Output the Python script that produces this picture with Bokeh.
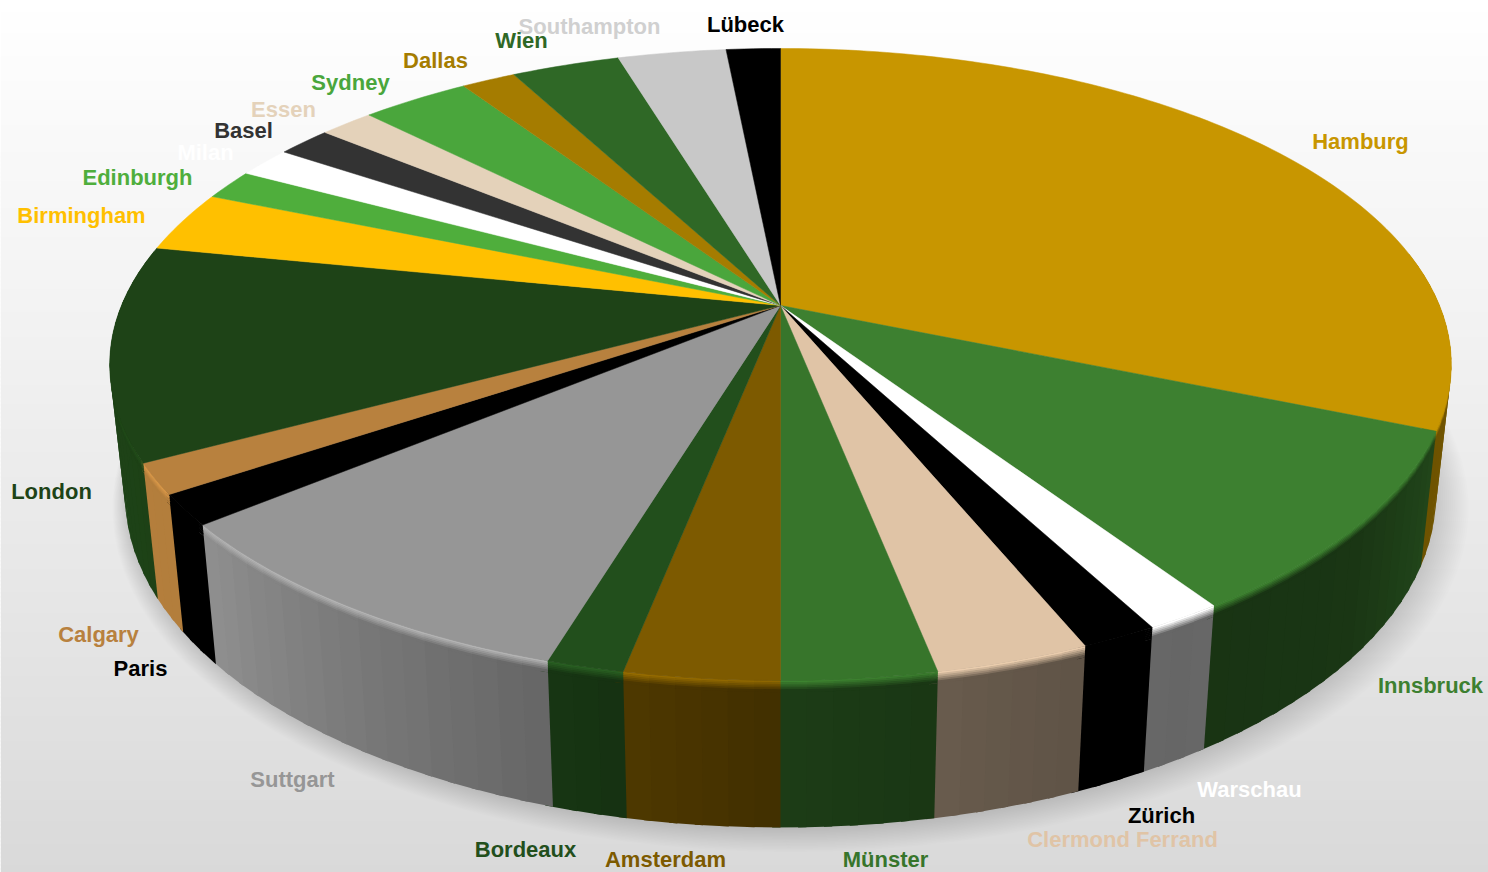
import numpy as np
from bokeh.embed import file_html
from bokeh.models import ColumnDataSource, Range1d
from bokeh.plotting import figure
from bokeh.resources import INLINE
from bokeh.core.properties import value

# Pie data, clockwise from twelve o'clock
cities = ["Hamburg", "Innsbruck", "Warschau", "Zürich", "Clermond Ferrand", "Münster",
          "Amsterdam", "Bordeaux", "Suttgart", "Paris", "Calgary", "London", "Birmingham",
          "Edinburgh", "Milan", "Basel", "Essen", "Sydney", "Dallas", "Wien",
          "Southampton", "Lübeck"]
counts = [20, 6, 1, 1, 2, 2, 2, 1, 6, 1, 1, 7, 2, 1, 1, 1, 1, 2, 1, 2, 2, 1]
colors = ["#c89600", "#3d8030", "#ffffff", "#000000", "#e0c4a6", "#37752b",
          "#7d5a00", "#224f1c", "#969696", "#000000", "#b8813e", "#1e4317", "#ffc000",
          "#4fae3c", "#ffffff", "#333333", "#e4d2ba", "#4aa63c", "#a57c00", "#2f6826",
          "#c8c8c8", "#000000"]
label_colors = list(colors)
label_colors[colors.index("#c8c8c8")] = "#d0d0d0"

# Label centres on the page, in pixels
label_x = [1360, 1430, 1249, 1161, 1122, 885, 665, 525, 292, 140, 98, 51, 81, 137, 205, 243,
           283, 350, 435, 521, 589, 745]
label_y = [141, 685, 789, 815, 839, 859, 859, 849, 779, 668, 634, 491, 215, 177, 152, 130,
           109, 82, 60, 40, 26, 24]

W, H = 1488, 872

# Perspective disc: unit circle projected with foreshortening toward the back
CX, CY = 780.0, 305.0
A, B, K = 659.0, 305.0, -0.1867
# Base disc relative to the top disc
BASE_SX, BASE_A, BASE_B = 0.977, 1.05, 113.0


def top_disc(deg):
    t = np.radians(deg)
    u, v = np.sin(t), -np.cos(t)
    w = 1 + K * v
    return CX + A * u / w, CY + B * v / w


def base_disc(deg):
    x, y = top_disc(deg)
    return CX + BASE_SX * (x - CX), BASE_A * y + BASE_B


def rim(deg, t):
    x0, y0 = top_disc(deg)
    x1, y1 = base_disc(deg)
    return x0 + (x1 - x0) * t, y0 + (y1 - y0) * t


def rgb(c):
    return np.array([int(c[i:i + 2], 16) for i in (1, 3, 5)], dtype=float)


def to_hex(c):
    c = np.clip(np.round(c), 0, 255).astype(int)
    return "#%02x%02x%02x" % tuple(c)


def side_light(deg):
    return np.interp(deg, [85, 112, 130, 150, 165, 180, 197, 215, 232, 280],
                     [0.62, 0.55, 0.42, 0.40, 0.45, 0.52, 0.68, 0.82, 0.97, 1.0])


def edge_glow(deg):
    return np.interp(deg, [85, 125, 170, 190, 280], [1.0, 1.0, 1.05, 1.2, 1.2])


edges = np.concatenate([[0], np.cumsum(counts)]) * 360.0 / sum(counts)

p = figure(width=W, height=H, x_range=Range1d(0, W), y_range=Range1d(H, 0),
           output_backend="svg", toolbar_location=None, min_border=0,
           outline_line_color=None, background_fill_color="white", border_fill_color="white")
p.axis.visible = False
p.grid.visible = False

# Backdrop: vertical grey ramp
band_top = np.arange(0, H, 4.0)
shade = np.interp(band_top, [0, 20, 110, 300, 600, H], [255, 254, 250, 243, 230, 217])
p.quad(left=0, right=W, top=band_top, bottom=band_top + 5,
       fill_color=[to_hex(np.array([s, s, s])) for s in shade], line_color=None)

# Soft cast shadow under the base
sweep = np.arange(0, 360, 3.0)
bx, by = base_disc(sweep)
layers = np.linspace(1.035, 1.0, 18)
sx = [CX + 10 * (s - 1) / 0.035 + s * (bx - CX) for s in layers]
sy = [520 + 14 * (s - 1) / 0.035 + s * (by - 520) for s in layers]
p.patches(sx, sy, fill_color="#000000", fill_alpha=0.007, line_color=None)

# Rim: narrow vertical facets, each shaded by the direction it faces.
# Every facet runs a little past its end so the next one paints over the seam.
BEVEL = [0.0, 0.012, 0.024, 0.036, 0.048, 0.06, 0.075]
OVERLAP = 0.6
full_x, full_y, full_c = [], [], []
bev_x, bev_y, bev_c = [], [], []
for start, end, col in zip(edges[:-1], edges[1:], colors):
    lo, hi = max(start, 80.0), min(end, 280.0)
    if hi <= lo:
        continue
    n = max(1, int(np.ceil((hi - lo) / 2.0)))
    steps = np.linspace(lo, hi, n + 1)
    base = rgb(col)
    for a0, a1 in zip(steps[:-1], steps[1:]):
        mid = (a0 + a1) / 2
        a2 = a1 + OVERLAP
        side = base * side_light(mid)
        x0a, y0a = rim(a0, 0.0)
        x0b, y0b = rim(a2, 0.0)
        x1a, y1a = rim(a0, 1.0)
        x1b, y1b = rim(a2, 1.0)
        full_x.append([x0a, x0b, x1b, x1a])
        full_y.append([y0a, y0b, y1b, y1a])
        full_c.append(to_hex(side))
        glow = np.minimum(base * edge_glow(mid), 255)
        for i, (t0, t1) in enumerate(zip(BEVEL[:-1], BEVEL[1:])):
            f = i / (len(BEVEL) - 2)
            c = glow * (1 - f) + side * f
            t_end = t1 + 0.004
            xa, ya = rim(a0, t0)
            xb, yb = rim(a2, t0)
            xc, yc = rim(a2, t_end)
            xd, yd = rim(a0, t_end)
            bev_x.append([xa, xb, xc, xd])
            bev_y.append([ya, yb, yc, yd])
            bev_c.append(to_hex(c))
p.patches(full_x, full_y, fill_color=full_c, line_color=None)
p.patches(bev_x, bev_y, fill_color=bev_c, line_color=None)

# Top face: one wedge per city
wedge_x, wedge_y = [], []
for start, end in zip(edges[:-1], edges[1:]):
    ang = np.linspace(start, end, max(3, int((end - start) / 1.0) + 2))
    x, y = top_disc(ang)
    wedge_x.append([CX] + list(x))
    wedge_y.append([CY] + list(y))
p.patches(wedge_x, wedge_y, fill_color=colors, line_color=colors, line_width=0.5)

# City names, last one first so that earlier names stay on top
src = ColumnDataSource(dict(x=label_x[::-1], y=label_y[::-1], text=cities[::-1], color=label_colors[::-1]))
p.text(x="x", y="y", text="text", source=src, text_color="color", text_align="center",
       text_baseline="middle", text_font=value("Liberation Sans"), text_font_size="22px",
       text_font_style="bold")

open("out.html", "w").write(file_html(p, INLINE))
